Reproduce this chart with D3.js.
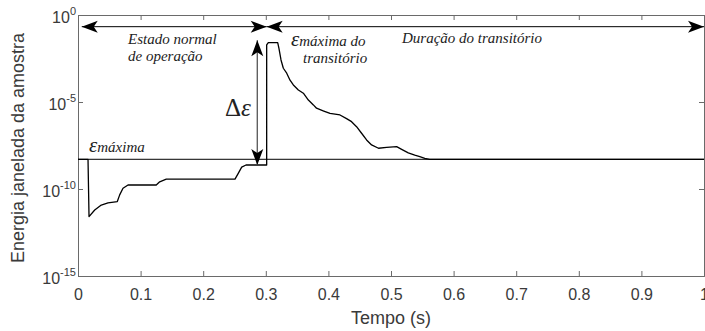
<!DOCTYPE html>
<html>
<head>
<meta charset="utf-8">
<script src="https://cdn.jsdelivr.net/npm/d3@7/dist/d3.min.js"></script>
<style>
  body { margin: 0; background: #fff; }
  svg { display: block; }
  .ax path, .ax line { stroke: #6a6a6a; }
  .ax text, .lbl { font-family: "Liberation Sans", Arial, Helvetica, sans-serif; fill: #3a3a3a; }
  .note { font-family: "Liberation Serif", "Times New Roman", serif; font-style: italic; fill: #222; font-size: 15px; }
</style>
</head>
<body>
<svg id="chart" width="705" height="331"></svg>
<script>
// energia janelada da amostra
var tempo = [0, 0.016, 0.0176, 0.0267, 0.0372, 0.0479, 0.0628, 0.0666, 0.0719, 0.0799, 0.125, 0.1305, 0.141,
  0.2508, 0.256, 0.2615, 0.2684, 0.3014, 0.3014, 0.304, 0.319, 0.321, 0.3243, 0.328, 0.3334, 0.3387, 0.344,
  0.352, 0.36, 0.368, 0.376, 0.381, 0.3926, 0.4026, 0.4185, 0.429, 0.437, 0.445, 0.453, 0.461, 0.469, 0.48,
  0.493, 0.509, 0.517, 0.5276, 0.538, 0.546, 0.554, 0.562, 1]
var energia = [5.1e-9, 5.1e-9, 2.6e-12, 6.2e-12, 1.2e-11, 1.6e-11, 1.9e-11, 4.6e-11, 1.1e-10, 1.7e-10, 1.7e-10, 2.6e-10, 3.7e-10,
  3.7e-10, 7.9e-10, 1.8e-9, 2.4e-9, 2.4e-9, 1.9e-2, 2.6e-2, 2.6e-2, 1.2e-2, 2.6e-3, 8.7e-4, 4.5e-4, 1.8e-4, 9.5e-5,
  4.9e-5, 3.2e-5, 1.3e-5, 6.8e-6, 4.4e-6, 3.0e-6, 2.2e-6, 1.8e-6, 1.1e-6, 7.4e-7, 3.8e-7, 1.6e-7, 6.6e-8, 3.4e-8, 2.2e-8,
  2.5e-8, 2.7e-8, 1.9e-8, 1.2e-8, 8.9e-9, 7.2e-9, 5.8e-9, 5.1e-9, 5.1e-9]
var xTicks = [0, 0.1, 0.2, 0.3, 0.4, 0.5, 0.6, 0.7, 0.8, 0.9, 1]
var yTicks = [1e-15, 1e-10, 1e-5, 1]
var yTickExp = ['-15', '-10', '-5', '0']
var epsMax = 5.1e-9
// anotações (setas)
var setaY = 0.213
var fimEstado = 0.3014
var setaDeltaX = 0.2864
var deltaDe = 2.4e-9
var deltaAte = 3.5e-2

var L = 78, R = 704, T = 15, B = 276

var svg = d3.select('#chart')
var x = d3.scaleLinear().domain([0, 1]).range([L, R])
var y = d3.scaleLog().domain([1e-15, 1]).range([B, T])

var defs = svg.append('defs')
defs.append('marker')
  .attr('id', 'ah')
  .attr('viewBox', '-17 -7 18 14')
  .attr('refX', 0).attr('refY', 0)
  .attr('markerWidth', 18).attr('markerHeight', 14)
  .attr('markerUnits', 'userSpaceOnUse')
  .attr('orient', 'auto-start-reverse')
  .append('path')
  .attr('d', 'M0,0L-16,-6L-12,0L-16,6Z')
  .attr('fill', '#000')

// eixos (caixa completa, ticks para dentro)
svg.append('g').attr('class', 'ax')
  .attr('transform', 'translate(0,' + B + ')')
  .call(d3.axisBottom(x).tickValues(xTicks).tickSize(-5).tickPadding(13).tickFormat(d3.format('~g')))
  .call(g => g.selectAll('text').attr('font-size', 16))
svg.append('g').attr('class', 'ax')
  .attr('transform', 'translate(0,' + T + ')')
  .call(d3.axisTop(x).tickValues(xTicks).tickSize(-5).tickFormat(''))
svg.append('g').attr('class', 'ax')
  .attr('transform', 'translate(' + L + ',0)')
  .call(d3.axisLeft(y).tickValues(yTicks).tickSize(-5).tickFormat(''))
svg.append('g').attr('class', 'ax')
  .attr('transform', 'translate(' + R + ',0)')
  .call(d3.axisRight(y).tickValues(yTicks).tickSize(-5).tickFormat(''))
svg.selectAll('.ax .domain').attr('stroke-width', 1)

// rótulos 10^n
var yl = svg.append('g').attr('class', 'lbl')
yTicks.forEach(function (v, i) {
  var t = yl.append('text')
    .attr('x', L - 2).attr('y', y(v) + 8)
    .attr('text-anchor', 'end')
    .attr('font-size', 16)
  t.append('tspan').text('10')
  t.append('tspan').attr('dy', -8).attr('font-size', 11).text(yTickExp[i])
})

// linha de energia máxima
svg.append('line')
  .attr('x1', L).attr('x2', R)
  .attr('y1', y(epsMax)).attr('y2', y(epsMax))
  .attr('stroke', '#000').attr('stroke-width', 1)

// sinal
var pts = tempo.map((t, i) => [t, energia[i]])
svg.append('path')
  .datum(pts)
  .attr('fill', 'none')
  .attr('stroke', '#000')
  .attr('stroke-width', 1.3)
  .attr('stroke-linejoin', 'round')
  .attr('d', d3.line().x(d => x(d[0])).y(d => y(d[1])))

// setas horizontais
svg.append('line')
  .attr('x1', x(0.006)).attr('x2', x(fimEstado))
  .attr('y1', y(setaY)).attr('y2', y(setaY))
  .attr('stroke', '#000').attr('stroke-width', 1)
  .attr('marker-start', 'url(#ah)').attr('marker-end', 'url(#ah)')
svg.append('line')
  .attr('x1', x(fimEstado)).attr('x2', x(1))
  .attr('y1', y(setaY)).attr('y2', y(setaY))
  .attr('stroke', '#000').attr('stroke-width', 1)
  .attr('marker-start', 'url(#ah)').attr('marker-end', 'url(#ah)')

// seta delta
svg.append('line')
  .attr('x1', x(setaDeltaX)).attr('x2', x(setaDeltaX))
  .attr('y1', y(deltaAte)).attr('y2', y(deltaDe))
  .attr('stroke', '#555').attr('stroke-width', 1.3)
  .attr('marker-start', 'url(#ah)').attr('marker-end', 'url(#ah)')

// textos
svg.append('text').attr('class', 'note').attr('x', 128).attr('y', 44).text('Estado normal')
svg.append('text').attr('class', 'note').attr('x', 128).attr('y', 61).text('de operação')
svg.append('text').attr('class', 'note').attr('x', 402).attr('y', 43).text('Duração do transitório')

var t1 = svg.append('text').attr('class', 'note').attr('x', 291).attr('y', 46)
t1.append('tspan').style('font-size', '21px').text('ε')
t1.append('tspan').text('máxima do')
svg.append('text').attr('class', 'note').attr('x', 303).attr('y', 63).text('transitório')

var t2 = svg.append('text').attr('class', 'note').attr('x', 89).attr('y', 152)
t2.append('tspan').style('font-size', '21px').text('ε')
t2.append('tspan').text('máxima')

var t3 = svg.append('text').attr('class', 'note').attr('x', 225).attr('y', 116).style('font-size', '25px')
t3.append('tspan').style('font-style', 'normal').text('Δ')
t3.append('tspan').text('ε')

// títulos dos eixos
svg.append('text').attr('class', 'lbl')
  .attr('x', (L + R) / 2).attr('y', 324)
  .attr('text-anchor', 'middle').attr('font-size', 18)
  .text('Tempo (s)')
svg.append('text').attr('class', 'lbl')
  .attr('transform', 'translate(24,148) rotate(-90)')
  .attr('text-anchor', 'middle').attr('font-size', 18)
  .text('Energia janelada da amostra')
</script>
</body>
</html>
